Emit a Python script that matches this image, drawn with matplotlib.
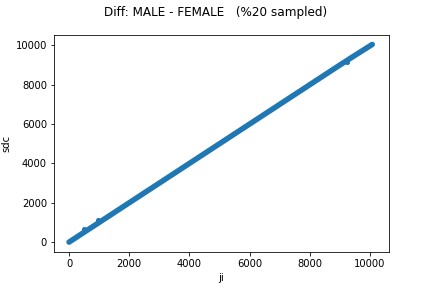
import matplotlib
matplotlib.use("Agg")
import matplotlib.pyplot as plt

ji = [0, 100, 250, 400, 600, 800, 1000, 1250, 1500, 1750, 2000, 2500, 3000,
      3500, 4000, 4500, 5000, 5500, 6000, 6500, 7000, 7500, 8000, 8500,
      9000, 9500, 10080]
sdc = [0, 100, 250, 400, 600, 800, 1000, 1250, 1500, 1750, 2000, 2500, 3000,
       3500, 4000, 4500, 5000, 5500, 6000, 6500, 7000, 7500, 8000, 8500,
       9000, 9490, 10050]

# a few stray points sitting just off the band
out_ji = [500, 950, 9250]
out_sdc = [650, 1100, 9170]

fig, ax = plt.subplots(figsize=(6, 4), dpi=72)
fig.subplots_adjust(bottom=0.125)
ax.plot(ji, sdc, '-', color='#1f77b4', lw=5.5, solid_capstyle='round')
ax.plot(out_ji, out_sdc, 'o', color='#1f77b4', ms=4)
ax.set_xlim(-500, 10630)
ax.set_xlabel("ji")
ax.set_ylabel("sdc")
fig.suptitle("Diff: MALE - FEMALE   (%20 sampled)")
fig.savefig("out.png", dpi=72)
